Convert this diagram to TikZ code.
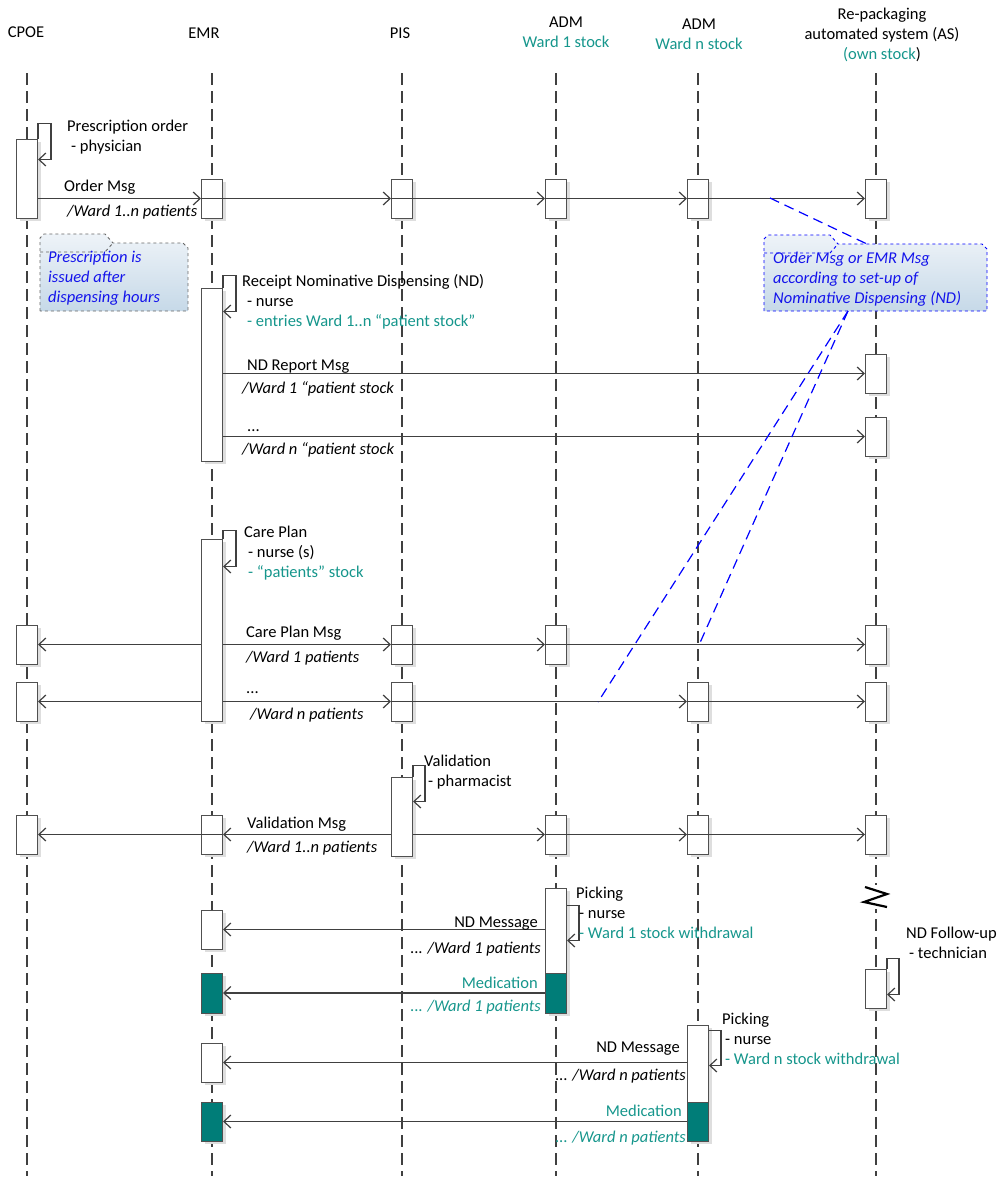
\documentclass[tikz,border=0pt]{standalone}
\usepackage{fontspec}
\setmainfont{Carlito}
\usetikzlibrary{arrows.meta,positioning,shadows}

\definecolor{linegray}{HTML}{404040}
\definecolor{boxgray}{HTML}{505050}
\definecolor{tealtxt}{RGB}{22,150,140}
\definecolor{tealbox}{RGB}{0,125,120}
\definecolor{noteblue}{RGB}{20,20,235}
\definecolor{notetop}{HTML}{EEF3F8}
\definecolor{notebot}{HTML}{C6D9E8}
\newcommand{\lab}{\fontsize{16.5}{20}\selectfont}

\tikzset{
  life/.style={draw=linegray, line width=1.2pt, dash pattern=on 12pt off 6pt},
  act/.style={draw=boxgray, fill=white, line width=1pt, minimum width=21pt,
    minimum height=39pt, inner sep=0pt,
    drop shadow={shadow xshift=3pt, shadow yshift=-3pt, fill=black!13, opacity=1}},
  med/.style={act, fill=tealbox},
  medpart/.style={draw=boxgray, fill=tealbox, line width=1pt, minimum width=21pt, inner sep=0pt},
  msg/.style={draw=linegray, line width=1.2pt, -{Straight Barb[length=7pt,width=13pt]}},
  lbl/.style={anchor=base west, inner sep=0pt, align=left},
  rlbl/.style={anchor=base east, inner sep=0pt, align=right},
  head/.style={anchor=base, inner sep=0pt, align=center},
  note/.style={dashed, line width=0.9pt, top color=notetop, bottom color=notebot},
  notetxt/.style={lbl, text=noteblue, font=\lab\itshape},
  link/.style={draw=blue, line width=1.2pt, dash pattern=on 10pt off 6pt},
  every node/.style={font=\lab}
}

\begin{document}
\begin{tikzpicture}[x=1pt, y=-1pt]
\useasboundingbox (0,0) rectangle (1006,1179);

% lifelines
\foreach \n/\x in {cpoe/27,emr/212,pis/402,adm1/556,admn/698,as/876}{
  \coordinate (\n-top) at (\x,73);
  \coordinate (\n-bot) at (\x,1176);
  \draw[life] (\n-top) -- (\n-bot);
}

% headers (multi-line: base = last line)
\node[head] (cpoe) at (26,37) {CPOE};
\node[head] (emr) at (204,38) {EMR};
\node[head] (pis) at (400,38) {PIS};
\node[head] (adm1) at (566,47) {ADM\\\textcolor{tealtxt}{Ward 1 stock}};
\node[head] (admn) at (699,49) {ADM\\\textcolor{tealtxt}{Ward n stock}};
\node[head] (as) at (882,59) {Re-packaging\\automated system (AS)\\\textcolor{tealtxt}{(own stock})};

% notes
\path[note, draw=black!60] (40,311) -- (40,238) -- (44,234) -- (105,234) -- (113,243)
  -- (183,243) -- (188,248) -- (188,311) -- cycle;
\draw[dashed, line width=0.9pt, black!60] (40,252) -- (105,252) -- (113,243);
\node[notetxt] (note-cpoe) at (48,302) {Prescription is\\issued after\\dispensing hours};
\path[note, draw=blue] (764,311) -- (764,239) -- (768,235) -- (830,235) -- (838,244)
  -- (982,244) -- (987,249) -- (987,311) -- cycle;
\draw[dashed, line width=0.9pt, blue] (764,253) -- (830,253) -- (838,244);
\node[notetxt] (note-as) at (773,303) {Order Msg or EMR Msg\\according to set-up of\\Nominative Dispensing (ND)};

% activations
\node[act, minimum height=79pt] (cpoe-rx) at (27,178.5) {};
\foreach \n/\x in {emr/212,pis/402,adm1/556,admn/698,as/876}
  \node[act] (om-\n) at (\x,198.5) {};
\node[act, minimum height=173pt] (emr-nd) at (212,374.5) {};
\node[act] (ndr1-as) at (876,373.5) {};
\node[act] (ndr2-as) at (876,436.5) {};
\node[act, minimum height=182pt] (emr-cp) at (212,630) {};
\foreach \n/\x in {cpoe/27,pis/402,adm1/556,as/876}
  \node[act] (cp1-\n) at (\x,644.5) {};
\foreach \n/\x in {cpoe/27,pis/402,admn/698,as/876}
  \node[act] (cp2-\n) at (\x,701.5) {};
\node[act, minimum height=79pt] (pis-val) at (402,816.5) {};
\foreach \n/\x in {cpoe/27,emr/212,adm1/556,admn/698,as/876}
  \node[act] (val-\n) at (\x,834.5) {};
\node[act, minimum height=125pt] (adm1-pick) at (556,950.5) {};
\node[medpart, minimum height=40pt] (adm1-med) at (556,993) {};
\node[act] (nd1-emr) at (212,929.5) {};
\node[med, minimum height=40pt] (med1-emr) at (212,993) {};
\node[act, minimum height=116pt] (admn-pick) at (698,1083) {};
\node[medpart, minimum height=39pt] (admn-med) at (698,1121.5) {};
\node[act] (nd2-emr) at (212,1062.5) {};
\node[med] (med2-emr) at (212,1121.5) {};
\node[act] (as-fu) at (876,988.5) {};

% lifeline break
\fill[white] (862,885) rectangle (890,909);
\draw[black, line width=2.2pt] (865,887) -- (887,894) -- (864,902) -- (887,907);

% messages
\draw[msg] (cpoe-rx.north east) -- ++(0,-15) -- ++(13,0) -- ++(0,36) -- ++(-13,0);
\draw[msg] (cpoe-rx.east |- om-emr.west) -- (om-emr.west);
\draw[msg] (om-emr.west) -- (om-pis.west);
\draw[msg] (om-pis.west) -- (om-adm1.west);
\draw[msg] (om-adm1.west) -- (om-admn.west);
\draw[msg] (om-admn.west) -- (om-as.west);

\draw[msg] (emr-nd.north east) -- ++(0,-12) -- ++(13,0) -- ++(0,36) -- ++(-13,0);
\draw[msg] (emr-nd.east |- ndr1-as.west) -- (ndr1-as.west);
\draw[msg] (emr-nd.east |- ndr2-as.west) -- (ndr2-as.west);

\draw[msg] (emr-cp.north east) -- ++(0,-8) -- ++(13,0) -- ++(0,36) -- ++(-13,0);
\draw[msg] (emr-cp.west |- cp1-cpoe.east) -- (cp1-cpoe.east);
\draw[msg] (emr-cp.east |- cp1-pis.west) -- (cp1-pis.west);
\draw[msg] (cp1-pis.west) -- (cp1-adm1.west);
\draw[msg] (cp1-adm1.west) -- (cp1-as.west);
\draw[msg] (emr-cp.west |- cp2-cpoe.east) -- (cp2-cpoe.east);
\draw[msg] (emr-cp.east |- cp2-pis.west) -- (cp2-pis.west);
\draw[msg] (cp2-pis.west) -- (cp2-admn.west);
\draw[msg] (cp2-admn.west) -- (cp2-as.west);

\draw[msg] (pis-val.north east) -- ++(0,-11) -- ++(12,0) -- ++(0,36) -- ++(-12,0);
\draw[msg] (pis-val.west |- val-emr.east) -- (val-emr.east);
\draw[msg] (val-emr.east) -- (val-cpoe.east);
\draw[msg] (pis-val.east |- val-adm1.west) -- (val-adm1.west);
\draw[msg] (val-adm1.west) -- (val-admn.west);
\draw[msg] (val-admn.west) -- (val-as.west);

\draw[msg] ([yshift=-18pt]adm1-pick.north east) -- ++(12,0) -- ++(0,35) -- ++(-12,0);
\draw[msg] (adm1-pick.west |- nd1-emr.east) -- (nd1-emr.east);
\draw[msg] (adm1-med.west) -- (med1-emr.east);
\draw[msg] ([yshift=-6pt]admn-pick.north east) -- ++(12,0) -- ++(0,35) -- ++(-12,0);
\draw[msg] (admn-pick.west |- nd2-emr.east) -- (nd2-emr.east);
\draw[msg] (admn-med.west |- med2-emr.east) -- (med2-emr.east);
\draw[msg] (as-fu.north east) -- ++(0,-10) -- ++(12,0) -- ++(0,36) -- ++(-12,0);

% note links
\coordinate (om-link) at (770,198);
\coordinate (note-as-top) at (867,244);
\coordinate (note-as-bot) at (848,311);
\coordinate (cp1-link) at (699,645);
\coordinate (cp2-link) at (598,702);
\draw[link] (om-link) -- (note-as-top);
\draw[link] (note-as-bot) -- (cp1-link);
\draw[link] (note-as-bot) -- (cp2-link);

% labels
\node[lbl] (lbl-rx) at (67,151) {Prescription order\\\hspace*{4pt}- physician};
\node[lbl] (lbl-om) at (64,191) {Order Msg};
\node[lbl] (lbl-omb) at (67,216) {\textit{/Ward 1..n patients}};
\node[lbl] (lbl-nd) at (242,326) {Receipt Nominative Dispensing (ND)\\\hspace*{5pt}- nurse\\\hspace*{5pt}\textcolor{tealtxt}{- entries Ward 1..n “patient stock”}};
\node[lbl] (lbl-ndr1) at (247,370) {ND Report Msg};
\node[lbl] (lbl-ndr1b) at (242,393) {\textit{/Ward 1 “patient stock}};
\node[lbl] (lbl-ndr2) at (247,431) {...};
\node[lbl] (lbl-ndr2b) at (242,454) {\textit{/Ward n “patient stock}};
\node[lbl] (lbl-cp) at (244,577) {Care Plan\\\hspace*{4pt}- nurse (s)\\\hspace*{4pt}\textcolor{tealtxt}{- “patients” stock}};
\node[lbl] (lbl-cp1) at (246,637) {Care Plan Msg};
\node[lbl] (lbl-cp1b) at (246,662) {\textit{/Ward 1 patients}};
\node[lbl] (lbl-cp2) at (246,693) {...};
\node[lbl] (lbl-cp2b) at (250,719) {\textit{/Ward n patients}};
\node[lbl] (lbl-val) at (424,786) {Validation\\\hspace*{4pt}- pharmacist};
\node[lbl] (lbl-vm) at (247,828) {Validation Msg};
\node[lbl] (lbl-vmb) at (247,852) {\textit{/Ward 1..n patients}};
\node[lbl] (lbl-pk1) at (576,938) {Picking\\\hspace*{3pt}- nurse\\\hspace*{3pt}\textcolor{tealtxt}{- Ward 1 stock withdrawal}};
\node[rlbl] (lbl-nd1) at (538,927) {ND Message};
\node[rlbl] (lbl-nd1b) at (541,953) {... \textit{/Ward 1 patients}};
\node[rlbl, text=tealtxt] (lbl-med1) at (538,988) {Medication};
\node[rlbl, text=tealtxt] (lbl-med1b) at (541,1011) {... \textit{/Ward 1 patients}};
\node[lbl] (lbl-pk2) at (722,1064) {Picking\\\hspace*{3pt}- nurse\\\hspace*{3pt}\textcolor{tealtxt}{- Ward n stock withdrawal}};
\node[rlbl] (lbl-nd2) at (680,1052) {ND Message};
\node[rlbl] (lbl-nd2b) at (686,1080) {... \textit{/Ward n patients}};
\node[rlbl, text=tealtxt] (lbl-med2) at (682,1116) {Medication};
\node[rlbl, text=tealtxt] (lbl-med2b) at (686,1142) {... \textit{/Ward n patients}};
\node[lbl] (lbl-fu) at (906,958) {ND Follow-up\\\hspace*{3pt}- technician};
\end{tikzpicture}
\end{document}
